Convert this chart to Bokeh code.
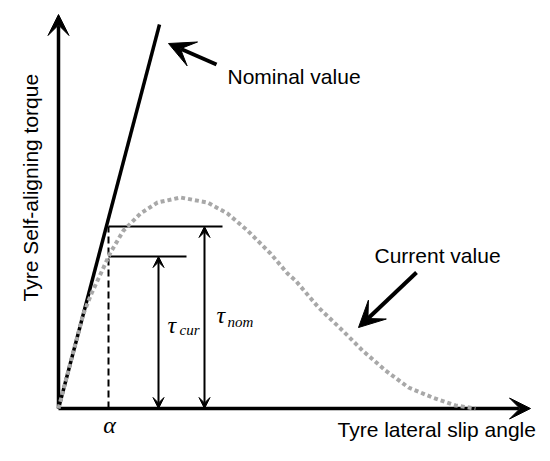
from bokeh.plotting import figure
from bokeh.models import Range1d, Arrow, VeeHead
from bokeh.core.properties import value
from bokeh.embed import file_html
from bokeh.resources import INLINE

# ---- data (schematic units: slip angle vs aligning torque) ----
nominal_x = [0, 101]
nominal_y = [0, 384]

curve_x = [0, 12, 25, 33, 40, 52, 65, 82, 99, 122, 149, 169, 189, 212, 229,
           237, 260, 284, 304, 327, 350, 374, 397, 417]
curve_y = [0, 46, 95, 115, 130, 156, 178, 195, 206, 211, 206, 195, 178, 155, 135,
           128, 101, 78, 58, 38, 21, 11, 3, 0]

alpha = 50
tau_nom = 182
tau_cur = 152
tau_cur_x = 100
tau_nom_x = 146
x_axis_end = 472
y_axis_end = 394

SANS = value("Liberation Sans")
SERIF = value("Liberation Serif")

p = figure(width=550, height=461, x_range=Range1d(-58, 492), y_range=Range1d(-53, 408),
           output_backend="svg", toolbar_location=None, min_border=0,
           min_border_left=0, min_border_right=0, min_border_top=0, min_border_bottom=0)
p.xaxis.visible = False
p.yaxis.visible = False
p.xgrid.visible = False
p.ygrid.visible = False
p.outline_line_color = None
p.background_fill_color = "white"
p.border_fill_color = "white"

# axes with arrow heads (under the glyphs)
p.add_layout(Arrow(end=VeeHead(size=21, fill_color="black", line_color="black", line_width=1),
                   x_start=0, y_start=0, x_end=0, y_end=y_axis_end,
                   line_width=3.5, line_color="black", level="underlay"))
p.add_layout(Arrow(end=VeeHead(size=21, fill_color="black", line_color="black", line_width=1),
                   x_start=0, y_start=0, x_end=x_axis_end, y_end=0,
                   line_width=3.5, line_color="black", level="underlay"))

# nominal line
p.line(nominal_x, nominal_y, line_color="black", line_width=3.5)

# alpha dashed line and horizontal levels
p.line([alpha, alpha], [0, tau_nom], line_color="black", line_width=2, line_dash="7 4")
p.line([alpha, 164], [tau_nom, tau_nom], line_color="black", line_width=2)
p.line([alpha, 128], [tau_cur, tau_cur], line_color="black", line_width=2)

# double arrows
for xx, top in [(tau_cur_x, tau_cur), (tau_nom_x, tau_nom)]:
    p.add_layout(Arrow(start=VeeHead(size=11, fill_color="black", line_color="black", line_width=1),
                       end=VeeHead(size=11, fill_color="black", line_color="black", line_width=1),
                       x_start=xx, y_start=0, x_end=xx, y_end=top,
                       line_width=2, line_color="black"))

# current value curve (dotted grey)
p.line(curve_x, curve_y, line_color="#a8a8a8", line_width=4, line_dash="4 3", line_cap="butt")

# pointer arrows
p.add_layout(Arrow(end=VeeHead(size=26, fill_color="black", line_color="black", line_width=1),
                   x_start=158, y_start=344, x_end=110, y_end=365,
                   line_width=4, line_color="black"))
p.add_layout(Arrow(end=VeeHead(size=26, fill_color="black", line_color="black", line_width=1),
                   x_start=358, y_start=136, x_end=300, y_end=81,
                   line_width=4, line_color="black"))

# texts
p.text([169], [332], text=["Nominal value"], text_font=SANS, text_font_size="21px",
       text_baseline="alphabetic", text_align="left", text_color="black")
p.text([316], [153], text=["Current value"], text_font=SANS, text_font_size="21px",
       text_baseline="alphabetic", text_align="left", text_color="black")
p.text([279], [-21], text=["Tyre lateral slip angle"], text_font=SANS, text_font_size="21px",
       text_baseline="alphabetic", text_align="left", text_color="black")
p.text([-28], [107], text=["Tyre Self-aligning torque"], text_font=SANS, text_font_size="21px",
       text_baseline="alphabetic", text_align="left", text_color="black", angle=1.5708)

p.text([109], [84], text=["τ"], text_font=SERIF, text_font_size="24px", text_font_style="italic",
       text_baseline="alphabetic", text_align="left", text_color="black")
p.text([121], [79], text=["cur"], text_font=SERIF, text_font_size="15px", text_font_style="italic",
       text_baseline="alphabetic", text_align="left", text_color="black")
p.text([158], [94], text=["τ"], text_font=SERIF, text_font_size="24px", text_font_style="italic",
       text_baseline="alphabetic", text_align="left", text_color="black")
p.text([169], [87], text=["nom"], text_font=SERIF, text_font_size="15px", text_font_style="italic",
       text_baseline="alphabetic", text_align="left", text_color="black")
p.text([alpha + 1], [-16], text=["α"], text_font=SERIF, text_font_size="24px", text_font_style="italic",
       text_baseline="middle", text_align="center", text_color="black")

open("out.html", "w").write(file_html(p, INLINE))
